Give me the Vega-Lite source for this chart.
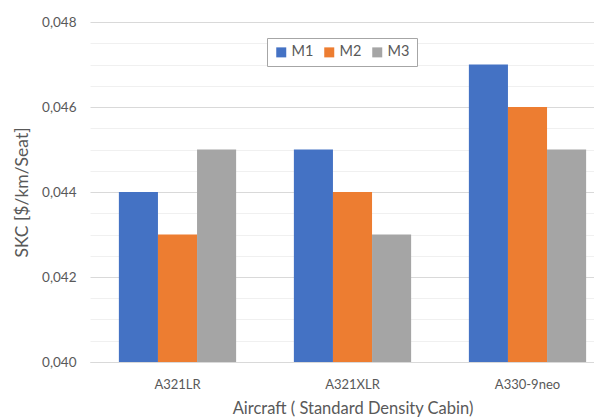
{
  "$schema": "https://vega.github.io/schema/vega-lite/v6.json",
  "width": 525,
  "height": 340,
  "autosize": {"type": "none"},
  "padding": {"left": 90, "top": 22, "right": 0, "bottom": 55},
  "background": "white",
  "config": {
    "font": "Lato",
    "view": {"stroke": null},
    "axis": {"labelFont": "Lato", "titleFont": "Lato", "labelColor": "#595959", "titleColor": "#595959", "titleFontWeight": "normal"}
  },
  "data": {
    "values": [
      {"aircraft": "A321LR", "model": "M1", "skc": 0.044},
      {"aircraft": "A321LR", "model": "M2", "skc": 0.043},
      {"aircraft": "A321LR", "model": "M3", "skc": 0.045},
      {"aircraft": "A321XLR", "model": "M1", "skc": 0.045},
      {"aircraft": "A321XLR", "model": "M2", "skc": 0.044},
      {"aircraft": "A321XLR", "model": "M3", "skc": 0.043},
      {"aircraft": "A330-9neo", "model": "M1", "skc": 0.047},
      {"aircraft": "A330-9neo", "model": "M2", "skc": 0.046},
      {"aircraft": "A330-9neo", "model": "M3", "skc": 0.045}
    ]
  },
  "mark": {"type": "bar", "clip": true},
  "encoding": {
    "x": {
      "field": "aircraft",
      "type": "nominal",
      "sort": null,
      "scale": {"paddingInner": 0.33, "paddingOuter": 0.165},
      "axis": {
        "title": "Aircraft ( Standard Density Cabin)",
        "labelAngle": 0,
        "labelFontSize": 13,
        "titleFontSize": 16.5,
        "ticks": false,
        "domainColor": "#d9d9d9",
        "labelPadding": 16,
        "titlePadding": 9
      }
    },
    "xOffset": {"field": "model", "type": "nominal", "sort": null},
    "y": {
      "field": "skc",
      "type": "quantitative",
      "scale": {"domain": [0.04, 0.048], "zero": false, "nice": false},
      "axis": {
        "title": "SKC [$/km/Seat]",
        "values": [0.04, 0.0405, 0.041, 0.0415, 0.042, 0.0425, 0.043, 0.0435, 0.044, 0.0445, 0.045, 0.0455, 0.046, 0.0465, 0.047, 0.0475, 0.048],
        "labelExpr": "abs(datum.value*1000 - round(datum.value*500)*2) < 0.01 ? replace(format(datum.value, '.3f'), '.', ',') : ''",
        "labelFontSize": 13.5,
        "titleFontSize": 17.5,
        "ticks": false,
        "domain": false,
        "labelPadding": 14,
        "titlePadding": 10,
        "gridColor": {"condition": {"test": "abs(datum.value*1000 - round(datum.value*500)*2) < 0.01", "value": "#d9d9d9"}, "value": "#f0f0f0"},
        "gridWidth": 1
      }
    },
    "color": {
      "field": "model",
      "type": "nominal",
      "scale": {"domain": ["M1", "M2", "M3"], "range": ["#4472C4", "#ED7D31", "#A5A5A5"]},
      "legend": {
        "title": null,
        "orient": "none",
        "direction": "horizontal",
        "legendX": 177,
        "legendY": 16,
        "symbolType": "square",
        "symbolSize": 100,
        "symbolStrokeWidth": 0,
        "labelFontSize": 14.5,
        "labelColor": "#595959",
        "labelFont": "Lato",
        "labelOffset": 3,
        "columnPadding": 8,
        "padding": 7,
        "strokeColor": "#a6a6a6",
        "fillColor": "white"
      }
    }
  }
}
